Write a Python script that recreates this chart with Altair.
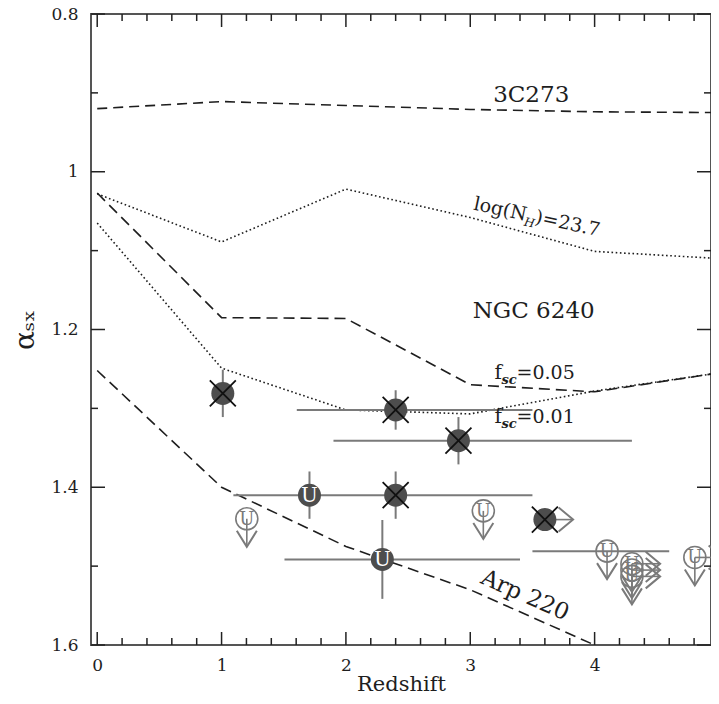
import altair as alt
import pandas as pd

# ---------------- data ----------------
z_grid = [0, 1, 2, 3, 4, 5]
curve_3c273 = [0.920, 0.911, 0.916, 0.921, 0.924, 0.925]
curve_nh237 = [1.028, 1.089, 1.022, 1.058, 1.101, 1.110]
curve_fsc005 = [1.027, 1.185, 1.186, 1.270, 1.279, 1.255]
curve_fsc001 = [1.065, 1.249, 1.302, 1.307, 1.278, 1.255]
z_arp = [0, 1, 2, 3, 4]
curve_arp220 = [1.252, 1.400, 1.475, 1.530, 1.600]

# detections (filled circle with a cross)
det_z = [1.01, 2.40, 2.905, 2.40, 3.60]
det_a = [1.281, 1.302, 1.341, 1.410, 1.441]
det_aerr = [0.030, 0.025, 0.030, 0.030, 0.0]
det_zlo = [None, 1.605, 1.90, 1.095, None]
det_zhi = [None, 3.50, 4.30, 3.50, None]
det_rightarrow = [False, False, False, False, True]

# filled "U" points
uf_z = [1.707, 2.293]
uf_a = [1.410, 1.4915]
uf_aerr = [0.030, 0.050]
uf_zlo = [None, 1.506]
uf_zhi = [None, 3.40]

# open "U" upper limits
ul_z = [1.203, 3.105, 4.10, 4.30, 4.30, 4.30, 4.806]
ul_a = [1.440, 1.430, 1.481, 1.497, 1.505, 1.513, 1.489]
ul_zlo = [None, None, 3.50, None, None, None, None]
ul_zhi = [None, None, 4.60, None, None, None, None]
ul_rightarrow = [False, False, False, True, True, True, True]

x_major = [0, 1, 2, 3, 4, 5]
x_minor = [0.2, 0.4, 0.6, 0.8, 1.2, 1.4, 1.6, 1.8, 2.2, 2.4, 2.6, 2.8,
           3.2, 3.4, 3.6, 3.8, 4.2, 4.4, 4.6, 4.8]
y_major = [0.8, 1.0, 1.2, 1.4, 1.6]
y_minor = [0.9, 1.1, 1.3, 1.5]

# ---------------- layout / style ----------------
W, H = 620, 631
FONT = "DejaVu Serif"
INK = "#1e1e1e"
GREY = "#7a7a7a"
DARK = "#4d4d4d"

xs = alt.Scale(domain=[-0.05, 4.936], nice=False, zero=False)
ys = alt.Scale(domain=[0.8, 1.6], reverse=True, nice=False, zero=False)

x_axis = alt.Axis(title="Redshift", values=x_major, format="d", grid=False,
                  domain=False, ticks=False, tickSize=0, labelFont=FONT,
                  labelFontSize=17, labelColor=INK, labelPadding=12,
                  titleFont=FONT, titleFontSize=21, titleFontWeight="normal",
                  titleColor=INK, titleY=45, titleBaseline="alphabetic")
y_axis = alt.Axis(title="αₛₓ", values=y_major, format="~g", grid=False,
                  domain=False, ticks=False, tickSize=0, labelFont=FONT,
                  labelFontSize=17, labelColor=INK, labelPadding=13,
                  titleFont=FONT, titleFontSize=28, titleFontWeight="normal",
                  titleColor=INK, titlePadding=11)


def X(f):
    return alt.X(f, type="quantitative", scale=xs, axis=x_axis)


def Y(f):
    return alt.Y(f, type="quantitative", scale=ys, axis=y_axis)


layers = []

# curves
for zz, aa, dash in [(z_grid, curve_3c273, [10, 6]),
                     (z_grid, curve_nh237, [1.6, 2.6]),
                     (z_grid, curve_fsc005, [11, 6]),
                     (z_grid, curve_fsc001, [1.6, 2.6]),
                     (z_arp, curve_arp220, [11, 6])]:
    df = pd.DataFrame({"z": zz, "a": aa})
    layers.append(alt.Chart(df).mark_line(color=INK, strokeWidth=1.6,
                                          strokeDash=dash).encode(x=X("z"), y=Y("a")))

# ---------- error bars ----------
def err_frames(zv, av, aerr, zlo, zhi):
    v = pd.DataFrame({"z": zv, "lo": [a - e for a, e in zip(av, aerr)],
                      "hi": [a + e for a, e in zip(av, aerr)], "e": aerr})
    v = v[v["e"] > 0]
    h = pd.DataFrame({"a": av, "zlo": zlo, "zhi": zhi}).dropna()
    return v, h


for zv, av, ae, zl, zh in [(det_z, det_a, det_aerr, det_zlo, det_zhi),
                           (uf_z, uf_a, uf_aerr, uf_zlo, uf_zhi)]:
    v, h = err_frames(zv, av, ae, zl, zh)
    layers.append(alt.Chart(v).mark_rule(color=GREY, strokeWidth=2).encode(
        x=X("z"), y=Y("lo"), y2="hi"))
    layers.append(alt.Chart(h).mark_rule(color=GREY, strokeWidth=2).encode(
        x=X("zlo"), x2="zhi", y=Y("a")))

ul_h = pd.DataFrame({"a": ul_a, "zlo": ul_zlo, "zhi": ul_zhi}).dropna()
layers.append(alt.Chart(ul_h).mark_rule(color=GREY, strokeWidth=2).encode(
    x=X("zlo"), x2="zhi", y=Y("a")))

# ---------- upper limits (open U with arrows) ----------
ul = pd.DataFrame({"z": ul_z, "a": ul_a, "r": ul_rightarrow})
ulr = ul[ul["r"]]
DOWN = "M-1,-0.8L0,0.8L1,-0.8"
RIGHT = "M-0.6,-1L0.6,0L-0.6,1"
layers.append(alt.Chart(ul).mark_rule(color=GREY, strokeWidth=1.6, y2Offset=28).encode(
    x=X("z"), y=Y("a"), y2="a"))
layers.append(alt.Chart(ul).mark_point(shape=DOWN, size=400, filled=False, color=GREY,
                                       strokeWidth=2, opacity=1, yOffset=20).encode(
    x=X("z"), y=Y("a")))
layers.append(alt.Chart(ulr).mark_rule(color=GREY, strokeWidth=1.6, x2Offset=28).encode(
    x=X("z"), x2="z", y=Y("a")))
layers.append(alt.Chart(ulr).mark_point(shape=RIGHT, size=576, filled=False, color=GREY,
                                        strokeWidth=2, opacity=1, xOffset=21).encode(
    x=X("z"), y=Y("a")))
layers.append(alt.Chart(ul).mark_point(shape="circle", size=484, filled=False, color=GREY,
                                       strokeWidth=1.6, opacity=1).encode(
    x=X("z"), y=Y("a")))
layers.append(alt.Chart(ul).mark_text(text="U", font=FONT, fontSize=18, color=GREY,
                                      baseline="middle", align="center", dy=1).encode(
    x=X("z"), y=Y("a")))

# ---------- detections ----------
det = pd.DataFrame({"z": det_z, "a": det_a, "r": det_rightarrow})
detr = det[det["r"]]
layers.append(alt.Chart(detr).mark_rule(color=GREY, strokeWidth=1.6, x2Offset=28).encode(
    x=X("z"), x2="z", y=Y("a")))
layers.append(alt.Chart(detr).mark_point(shape=RIGHT, size=576, filled=False, color=GREY,
                                         strokeWidth=2, opacity=1, xOffset=21).encode(
    x=X("z"), y=Y("a")))
layers.append(alt.Chart(det).mark_point(shape="circle", size=529, filled=True, color=DARK,
                                        opacity=1).encode(x=X("z"), y=Y("a")))
layers.append(alt.Chart(det).mark_point(shape="M-1,-1L1,1M-1,1L1,-1", size=676, filled=False,
                                        color="#111", strokeWidth=1.8, opacity=1).encode(
    x=X("z"), y=Y("a")))

uf = pd.DataFrame({"z": uf_z, "a": uf_a})
layers.append(alt.Chart(uf).mark_point(shape="circle", size=529, filled=True, color=DARK,
                                       opacity=1).encode(x=X("z"), y=Y("a")))
layers.append(alt.Chart(uf).mark_text(text="U", font=FONT, fontSize=20, color="white",
                                      baseline="middle", align="center", dy=1).encode(
    x=X("z"), y=Y("a")))

# ---------- annotations ----------
def label(zv, av, txt, size, angle=0, dx=0, dy=0, align="left", baseline="alphabetic",
          style="normal", weight="normal"):
    df = pd.DataFrame({"z": [zv], "a": [av], "t": [txt]})
    return alt.Chart(df).mark_text(font=FONT, fontSize=size, angle=angle, dx=dx, dy=dy,
                                   align=align, baseline=baseline, fontStyle=style,
                                   fontWeight=weight, color=INK).encode(
        x=X("z"), y=Y("a"), text="t:N")


layers.append(label(3.49, 0.903, "3C273", 23, align="center", baseline="middle"))
layers.append(label(3.51, 1.176, "NGC 6240", 23, align="center", baseline="middle"))
layers.append(label(3.44, 1.537, "Arp  220", 23, angle=24, align="center", baseline="middle"))
# log(N_H)=23.7, rotated
layers.append(label(3.02, 1.048, "log(N", 19, angle=12))
layers.append(label(3.02, 1.048, "H", 12, angle=12, dx=53, dy=5, style="italic"))
layers.append(label(3.02, 1.048, ")=23.7", 19, angle=12, dx=63))
# f_sc labels
for yy, val in [(1.263, "=0.05"), (1.319, "=0.01")]:
    layers.append(label(3.195, yy, "f", 20))
    layers.append(label(3.195, yy, "sc", 13, dx=7, dy=5, style="italic", weight="bold"))
    layers.append(label(3.195, yy, val, 19, dx=22))

# ---------- inward ticks on all four sides ----------
TK = "#222"
xmaj = pd.DataFrame({"v": x_major})
xmin = pd.DataFrame({"v": x_minor})
ymaj = pd.DataFrame({"v": y_major})
ymin = pd.DataFrame({"v": y_minor})
for df, L in [(xmaj, 13), (xmin, 7)]:
    layers.append(alt.Chart(df).mark_rule(color=TK, strokeWidth=1.5).encode(
        x=X("v"), y=alt.value(H), y2=alt.value(H - L)))
    layers.append(alt.Chart(df).mark_rule(color=TK, strokeWidth=1.5).encode(
        x=X("v"), y=alt.value(0), y2=alt.value(L)))
for df, L in [(ymaj, 14), (ymin, 7)]:
    layers.append(alt.Chart(df).mark_rule(color=TK, strokeWidth=1.5).encode(
        y=Y("v"), x=alt.value(0), x2=alt.value(L)))
    layers.append(alt.Chart(df).mark_rule(color=TK, strokeWidth=1.5).encode(
        y=Y("v"), x=alt.value(W), x2=alt.value(W - L)))

chart = alt.layer(*layers).properties(
    width=W, height=H,
    autosize=alt.AutoSizeParams(type="none"),
    padding={"left": 83, "top": 6, "right": 0, "bottom": 51},
    background="white",
).configure_view(stroke="#555", strokeWidth=2)

chart.save("out.html", embed_options={"renderer": "svg", "actions": False})
